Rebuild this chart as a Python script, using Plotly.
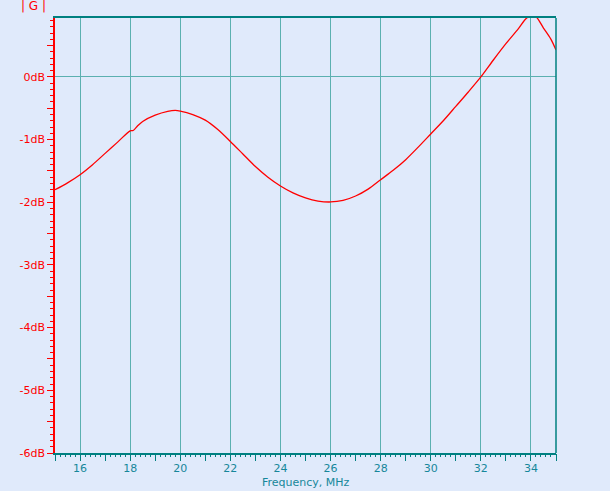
import plotly.graph_objects as go

freq_mhz = [15.0, 15.5, 16.0, 16.5, 17.0, 17.5, 18.0, 18.12, 18.3, 18.5, 19.0, 19.5, 19.8,
            20.0, 20.5, 21.0, 21.5, 22.0, 22.5, 23.0, 23.5, 24.0, 24.5, 25.0, 25.5, 26.0,
            26.5, 27.0, 27.5, 28.0, 28.5, 29.0, 29.5, 30.0, 30.5, 31.0, 31.5, 32.0, 32.5,
            33.0, 33.5, 33.8, 34.0, 34.2, 34.5, 34.8, 35.0]
gain_db = [-1.80, -1.69, -1.56, -1.40, -1.22, -1.04, -0.86, -0.855, -0.78, -0.71, -0.61, -0.55, -0.535,
           -0.545, -0.60, -0.69, -0.84, -1.03, -1.23, -1.43, -1.60, -1.74, -1.85, -1.93, -1.98, -1.995,
           -1.97, -1.90, -1.79, -1.64, -1.49, -1.32, -1.12, -0.91, -0.70, -0.47, -0.24, 0.0, 0.27,
           0.53, 0.77, 0.93, 0.97, 0.96, 0.78, 0.60, 0.43]

x_label_ticks = [16, 18, 20, 22, 24, 26, 28, 30, 32, 34]
y_tick_vals = [-6, -5.5, -5, -4.5, -4, -3.5, -3, -2.5, -2, -1.5, -1, -0.5, 0, 0.5]
y_tick_text = ["-6dB", "", "-5dB", "", "-4dB", "", "-3dB", "", "-2dB", "", "-1dB", "", "0dB", ""]

BG = "#E0EAFB"
TEAL = "#008080"
GRID = "#5BB0B0"
RED = "#FF0000"
LBL = "#16879A"
FONT = "DejaVu Sans"

fig = go.Figure()
fig.add_trace(go.Scatter(x=freq_mhz, y=gain_db, mode="lines",
                         line=dict(color=RED, width=1.3, shape="spline", smoothing=0.8),
                         showlegend=False, hoverinfo="skip"))
fig.add_trace(go.Scatter(x=[15, 35], y=[None, None], xaxis="x2", yaxis="y",
                         mode="lines", showlegend=False, hoverinfo="skip"))

fig.update_layout(
    width=610, height=491,
    margin=dict(l=55, r=54, t=18, b=38),
    paper_bgcolor=BG, plot_bgcolor=BG,
    font=dict(family=FONT, size=11),
    xaxis=dict(range=[15, 35], tickmode="array", tickvals=x_label_ticks,
               showgrid=True, gridcolor=GRID, gridwidth=1,
               showline=True, linecolor=TEAL, linewidth=1.5, mirror=True,
               ticks="outside", ticklen=6, tickcolor=TEAL, tickwidth=1,
               ticklabelstandoff=-2,
               tickfont=dict(color=LBL, size=11, family=FONT),
               minor=dict(dtick=1, tick0=15, ticks="outside", ticklen=6, tickcolor=TEAL, showgrid=False),
               zeroline=False, fixedrange=True),
    xaxis2=dict(range=[15, 35], overlaying="x", anchor="y", side="bottom",
                tickmode="linear", tick0=15, dtick=0.2, ticks="outside", ticklen=3,
                tickcolor=TEAL, showticklabels=False, showgrid=False, showline=False,
                zeroline=False),
    yaxis=dict(range=[-6, 0.94], tickmode="array", tickvals=y_tick_vals, ticktext=y_tick_text,
               showgrid=False, showline=True, linecolor=RED, linewidth=1.5,
               ticks="outside", ticklen=6, tickcolor=RED, tickwidth=1,
               tickfont=dict(color=RED, size=11, family=FONT),
               minor=dict(dtick=0.1, tick0=0, ticks="outside", ticklen=3, tickcolor=RED, showgrid=False),
               zeroline=True, zerolinecolor=GRID, zerolinewidth=1, fixedrange=True),
    shapes=[dict(type="line", xref="paper", yref="paper", x0=1, x1=1, y0=0, y1=1,
                 line=dict(color=TEAL, width=1.5))],
    annotations=[
        dict(text="| G |", xref="paper", yref="paper", x=-0.042, y=1, yshift=12,
             xanchor="center", yanchor="middle", showarrow=False,
             font=dict(color=RED, size=12, family=FONT)),
        dict(text="Frequency, MHz", xref="paper", yref="paper", x=0.5, y=0, yshift=-29.5,
             xanchor="center", yanchor="middle", showarrow=False,
             font=dict(color=LBL, size=11, family=FONT)),
    ],
)

fig.write_html("out.html", config={"displayModeBar": False},
               post_script="document.body.style.margin='0px';document.body.style.background='" + BG + "';")
